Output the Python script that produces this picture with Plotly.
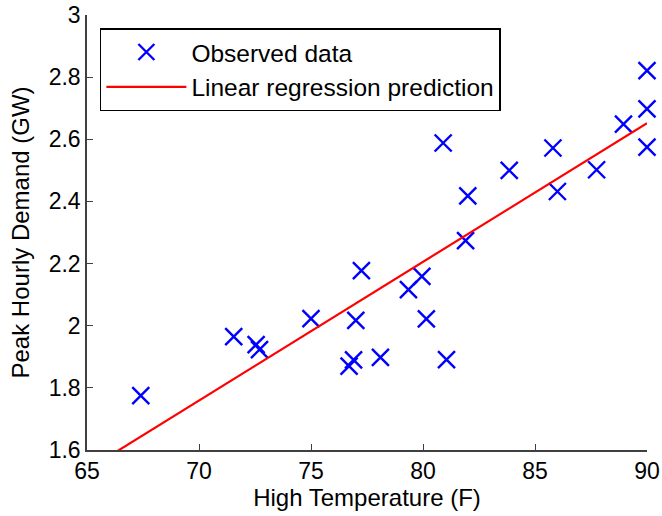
import plotly.graph_objects as go

temp_f = [67.4, 71.55, 72.55, 72.7, 75.0, 77.25, 77.0, 76.7, 76.9, 78.1,
          79.35, 79.95, 80.15, 81.05, 81.9, 82.0, 80.9, 83.85, 85.8, 86.0,
          87.75, 88.95, 90.0, 90.0, 90.0]
demand_gw = [1.775, 1.965, 1.939, 1.923, 2.023, 2.177, 2.017, 1.870, 1.890, 1.898,
             2.116, 2.159, 2.022, 1.891, 2.274, 2.418, 2.588, 2.500, 2.572, 2.432,
             2.502, 2.649, 2.821, 2.698, 2.575]

pred_x = [65.0, 90.0]
pred_y = [1.536, 2.652]

x_ticks = [65, 70, 75, 80, 85, 90]
y_ticks = [1.6, 1.8, 2.0, 2.2, 2.4, 2.6, 2.8, 3.0]
y_tick_labels = ["1.6", "1.8", "2", "2.2", "2.4", "2.6", "2.8", "3"]

font = "Liberation Sans, Arial, sans-serif"
FS = 23

fig = go.Figure()
fig.add_trace(go.Scatter(
    x=temp_f, y=demand_gw, mode="markers", name="Observed data",
    marker=dict(symbol="x-thin", size=17, color="#0000FF",
                line=dict(width=2.4, color="#0000FF")),
    cliponaxis=False,
))
fig.add_trace(go.Scatter(
    x=pred_x, y=pred_y, mode="lines", name="Linear regression prediction",
    line=dict(color="#FF0000", width=2.2),
))

fig.update_layout(
    width=662, height=516,
    margin=dict(l=87, r=15, t=15, b=66),
    paper_bgcolor="white", plot_bgcolor="white",
    font=dict(family=font, size=FS, color="black"),
    showlegend=True,
    legend=dict(x=0.023, y=0.97, xanchor="left", yanchor="top",
                bgcolor="white", bordercolor="black", borderwidth=1.5,
                font=dict(size=24.5), tracegroupgap=0, itemwidth=80),
    annotations=[dict(
        text="Peak Hourly Demand (GW)", textangle=-90,
        xref="paper", yref="paper", x=0, y=0.5,
        xanchor="center", yanchor="middle", xshift=-67,
        showarrow=False, font=dict(size=24),
    )],
)
fig.update_xaxes(
    range=[65, 90], tickvals=x_ticks, ticks="inside", ticklen=6,
    tickcolor="#404040", showline=True, linecolor="#404040", linewidth=1.5,
    showgrid=False, zeroline=False, automargin=False,
    title=dict(text="High Temperature (F)", standoff=2, font=dict(size=24)),
    tickfont=dict(size=FS),
)
fig.update_yaxes(
    range=[1.6, 3.0], tickvals=y_ticks, ticktext=y_tick_labels, ticks="inside",
    ticklen=6, tickcolor="#404040", showline=True, linecolor="#404040",
    linewidth=1.5, showgrid=False, zeroline=False, automargin=False,
    tickfont=dict(size=FS),
)

fig.write_html(
    "out.html",
    config={"displayModeBar": False},
    post_script="document.body.style.margin='0';document.body.style.overflow='hidden';",
)
